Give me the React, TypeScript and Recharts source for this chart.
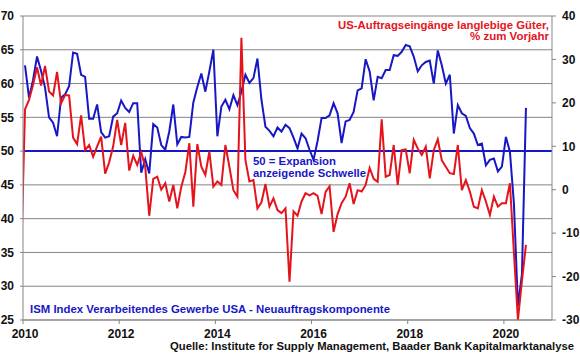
import { CartesianGrid, Line, LineChart, ReferenceLine, XAxis, YAxis } from "recharts";

// monthly observations, Dec 2009 .. Jun 2020 (Dec 2009 only feeds the clipped start of the red line)
const monthLabels: string[] = Array.from({ length: 127 }, (_, i) => {
    const year = 2009 + Math.floor((11 + i) / 12);
    const month = ((11 + i) % 12) + 1;
    return `${year}-${String(month).padStart(2, "0")}`;
});

// ISM manufacturing, new orders component (left axis)
const ismNewOrders: (number | null)[] = [
    null,
    62.7, 57.9, 60.5, 64.0, 61.9, 59.4, 55.0, 54.2, 52.2, 57.9, 58.4, 59.6,
    64.6, 64.4, 61.3, 61.0, 54.8, 54.8, 56.9, 52.8, 52.0, 52.2, 55.1, 55.6,
    57.5, 56.4, 55.8, 57.1, 57.1, 46.8, 48.8, 46.7, 54.0, 53.5, 50.9, 50.2,
    52.9, 56.9, 51.0, 52.1, 52.0, 52.1, 57.2, 59.5, 61.5, 58.8, 61.8, 65.0,
    52.2, 56.6, 57.6, 56.2, 58.3, 56.8, 58.8, 61.3, 60.1, 60.8, 63.7, 57.6,
    53.6, 53.0, 52.2, 53.5, 52.9, 53.9, 53.4, 52.0, 50.4, 52.6, 51.9, 50.2,
    48.7, 51.5, 54.9, 54.9, 55.3, 57.1, 55.6, 51.2, 54.4, 54.6, 55.8, 59.0,
    59.3, 63.6, 61.8, 57.5, 61.0, 60.8, 62.0, 62.0, 64.2, 64.1, 64.7, 65.7,
    65.5, 64.0, 61.8, 62.7, 63.2, 63.4, 60.0, 64.9, 62.7, 60.0, 61.3, 52.6,
    56.8, 55.6, 55.2, 53.4, 52.6, 50.9, 51.1, 47.9, 48.7, 48.9, 47.0, 47.7,
    52.1, 49.9, 42.2, 27.1, 31.8, 56.4,
];

// US durable goods orders, % y/y (right axis)
const durableGoodsYoY: number[] = [
    -17,
    18.5, 20.7, 24.1, 28.2, 24.0, 28.5, 22.6, 21.7, 27.1, 19.9, 21.8, 21.7,
    12.0, 10.5, 17.1, 9.1, 10.3, 7.6, 10.0, 12.2, 3.7, 6.3, 10.0, 16.1,
    10.3, 15.4, 4.4, 7.8, 5.7, 8.6, 5.3, -6.0, 2.5, 3.0, 0.0, 1.5,
    -2.7, 1.1, -4.3, 0.7, 4.0, 10.7, -3.9, 10.5, 5.3, 3.4, 8.8, 0.7,
    1.9, 1.1, 10.3, 5.3, -0.1, -1.6, 35.0, 6.8, 1.9, 2.2, -4.3, -2.9,
    1.3, -3.9, -2.0, -4.7, -5.4, -4.3, -21.2, -5.0, -6.0, -2.7, -0.8, -1.3,
    -0.8, -1.4, -5.6, -0.5, 0.8, -9.7, -5.6, -3.1, -1.6, 1.5, -3.3, -0.1,
    -0.4, 1.1, 5.0, 2.5, 1.8, 16.2, 3.0, 3.4, 10.3, 1.1, 9.1, 9.3,
    3.8, 11.5, 9.5, 8.0, 9.9, 2.6, 9.1, 11.6, 6.8, 5.3, 3.8, 3.6,
    10.3, -0.1, 2.2, -0.4, -3.9, -4.3, -0.1, -2.7, -5.8, -1.6, -3.9, -3.1,
    -3.1, 1.5, -14.5, -30, -21, -12.7,
];

const yearTicks = [2010, 2012, 2014, 2016, 2018, 2020];
const ismTicks = [25, 30, 35, 40, 45, 50, 55, 60, 65, 70];
const durableTicks = [-30, -20, -10, 0, 10, 20, 30, 40];

const data = monthLabels.map((label, i) => {
    const [y, m] = label.split("-").map(Number);
    return {
        month: label,
        t: y + (m - 0.5) / 12,
        ism: ismNewOrders[i],
        durable: durableGoodsYoY[i],
    };
});

const BLUE = "#1717c6";
const RED = "#e5141c";
const GRID = "#858585";
const FONT = "'Liberation Sans', Arial, sans-serif";

const tickStyle = { fill: "#111", fontSize: 12, fontWeight: "bold", fontFamily: FONT };

export default function App() {
    return (
        <div
            style={{
                position: "absolute",
                left: 0,
                top: 0,
                width: 580,
                height: 359,
                background: "#fff",
                fontFamily: FONT,
            }}
        >
            <LineChart
                width={580}
                height={359}
                data={data}
                margin={{ top: 16, right: 0, bottom: 0, left: 0 }}
            >
                <CartesianGrid yAxisId="ism" vertical={false} stroke={GRID} />
                <XAxis
                    dataKey="t"
                    type="number"
                    domain={[2010, 2021]}
                    ticks={yearTicks}
                    allowDataOverflow
                    height={39}
                    stroke={GRID}
                    tickSize={4}
                    tickMargin={5}
                    tick={{ ...tickStyle, dx: 2 }}
                    tickFormatter={(v: number) => String(Math.round(v))}
                />
                <YAxis
                    yAxisId="ism"
                    orientation="left"
                    domain={[25, 70]}
                    ticks={ismTicks}
                    width={23}
                    stroke={GRID}
                    tickSize={3}
                    tickMargin={6}
                    tick={tickStyle}
                />
                <YAxis
                    yAxisId="dur"
                    orientation="right"
                    domain={[-30, 40]}
                    ticks={durableTicks}
                    width={28}
                    stroke={GRID}
                    tickSize={4}
                    tickMargin={6}
                    tick={tickStyle}
                />
                <ReferenceLine yAxisId="ism" y={50} stroke={BLUE} strokeWidth={2} />
                <Line
                    yAxisId="ism"
                    dataKey="ism"
                    stroke={BLUE}
                    strokeWidth={2}
                    dot={false}
                    isAnimationActive={false}
                />
                <Line
                    yAxisId="dur"
                    dataKey="durable"
                    stroke={RED}
                    strokeWidth={2}
                    dot={false}
                    isAnimationActive={false}
                />
            </LineChart>
            <svg
                width={580}
                height={359}
                style={{ position: "absolute", left: 0, top: 0, pointerEvents: "none" }}
                fontFamily={FONT}
                fontWeight="bold"
                fontSize={11.5}
            >
                <text x={549} y={28.5} textAnchor="end" fill={RED} textLength={211} lengthAdjust="spacingAndGlyphs">
                    US-Auftragseingänge langlebige Güter,
                </text>
                <text x={549} y={39.5} textAnchor="end" fill={RED} textLength={79} lengthAdjust="spacingAndGlyphs">
                    % zum Vorjahr
                </text>
                <text x={253} y={164.5} fill={BLUE} textLength={83} lengthAdjust="spacingAndGlyphs">
                    50 = Expansion
                </text>
                <text x={253} y={176.5} fill={BLUE} textLength={113} lengthAdjust="spacingAndGlyphs">
                    anzeigende Schwelle
                </text>
                <text x={30} y={313} fill={BLUE} textLength={360} lengthAdjust="spacingAndGlyphs">
                    ISM Index Verarbeitendes Gewerbe USA - Neuauftragskomponente
                </text>
                <text x={170} y={350} fill="#111" fontSize={10.3} textLength={404} lengthAdjust="spacingAndGlyphs">
                    Quelle: Institute for Supply Management, Baader Bank Kapitalmarktanalyse
                </text>
            </svg>
        </div>
    );
}
